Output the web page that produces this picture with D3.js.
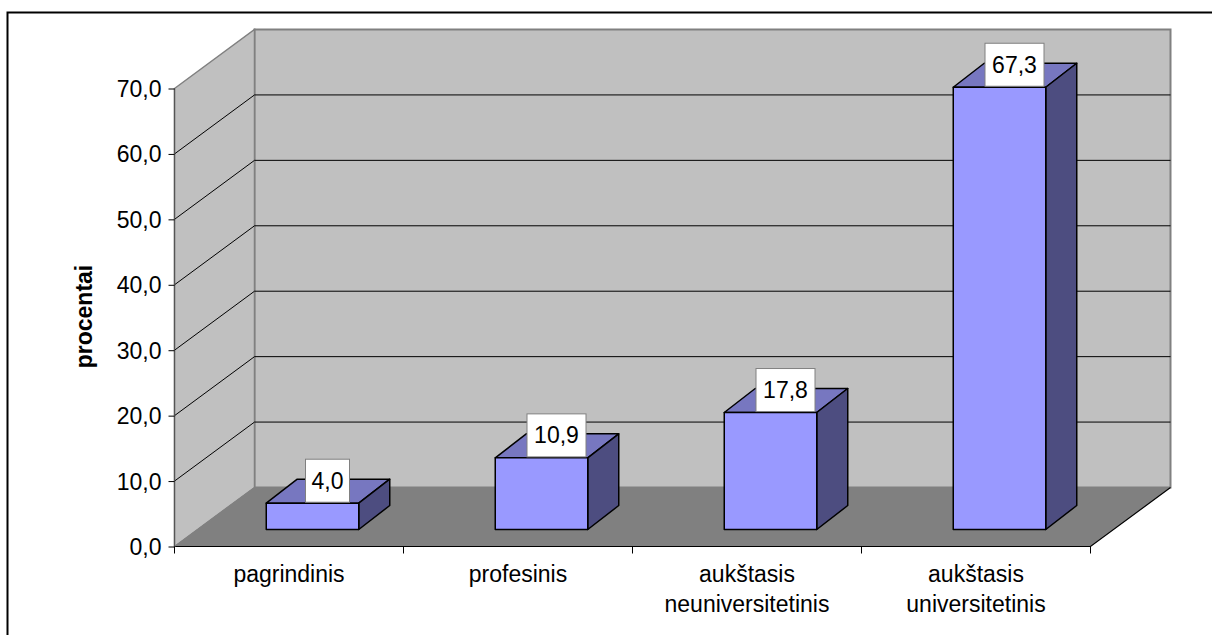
<!DOCTYPE html>
<html><head><meta charset="utf-8">
<script src="https://cdnjs.cloudflare.com/ajax/libs/d3/7.8.5/d3.min.js"></script>
<style>html,body{margin:0;padding:0;background:#fff}svg{display:block}text{font-family:"Liberation Sans",Arial,sans-serif;fill:#000}</style>
</head><body><svg id="c" width="1212" height="635"></svg>
<script>
const categories=[["pagrindinis"],["profesinis"],["aukštasis","neuniversitetinis"],["aukštasis","universitetinis"]];
const values=[4.0,10.9,17.8,67.3];
const labels=["4,0","10,9","17,8","67,3"];
const ticks=[0,10,20,30,40,50,60,70];
const fmt=v=>d3.format(".1f")(v).replace(".",",");

const svg=d3.select("#c");
const y=d3.scaleLinear().domain([0,70]).range([546.5,88.5]);
const yBar=d3.scaleLinear().domain([0,70]).range([529.5,69.5]);
const x=d3.scaleBand().domain(d3.range(4)).range([174.5,1090.5]);
const dx=80,dy=-59;            // plot depth
const bdx=31,bdy=-24;          // bar depth
const barOffX=23.5;            // bar placement in the depth of the floor
const barW=92.5;
const y0=y(0),yT=y(70),xL=174.5,xR=1090.5;
const poly=p=>p.map(q=>q.join(",")).join(" ");

// chart frame: only top and left edges are visible in the picture
svg.append("path").attr("d","M7.5,635V12.5H1212").attr("fill","none").attr("stroke","#000").attr("stroke-width",2);

// walls
svg.append("polygon").attr("points",poly([[xL+dx,yT+dy],[xR+dx,yT+dy],[xR+dx,y0+dy],[xL+dx,y0+dy]])).attr("fill","#c0c0c0").attr("stroke","#808080").attr("stroke-width",2);
svg.append("polygon").attr("points",poly([[xL,yT],[xL+dx,yT+dy],[xL+dx,y0+dy],[xL,y0]])).attr("fill","#c0c0c0").attr("stroke","#808080").attr("stroke-width",1.5);
svg.append("polygon").attr("points",poly([[xL,y0],[xL+dx,y0+dy],[xR+dx,y0+dy],[xR,y0]])).attr("fill","#808080");

// gridlines
ticks.slice(1,-1).forEach(t=>{
  svg.append("path").attr("d",`M${xL},${y(t)}L${xL+dx},${y(t)+dy}L${xR+dx},${y(t)+dy}`).attr("fill","none").attr("stroke","#000").attr("stroke-width",1);
});
// floor front edges
svg.append("path").attr("d",`M${xL},${y0}L${xR},${y0}L${xR+dx},${y0+dy}`).attr("fill","none").attr("stroke","#000").attr("stroke-width",1.2);
svg.append("path").attr("d",`M${xL},${y0}L${xL+dx},${y0+dy}`).attr("fill","none").attr("stroke","#808080").attr("stroke-width",1);
svg.append("line").attr("x1",xL).attr("x2",xL).attr("y1",yT).attr("y2",y0).attr("stroke","#555").attr("stroke-width",1.2);

// axes
const ya=d3.axisLeft(y).tickValues(ticks).tickFormat(fmt).tickSize(6).tickPadding(7);
const yg=svg.append("g").attr("transform",`translate(${xL},0)`).call(ya);
yg.select(".domain").remove();
yg.selectAll("line").attr("stroke","#000");
yg.selectAll("text").attr("font-size",23).attr("font-family",'"Liberation Sans",Arial,sans-serif').attr("dy","0.35em");

const xt=d3.range(5).map(i=>i<4?x(i):xR);
svg.append("g").selectAll("line").data(xt).join("line").attr("x1",d=>d).attr("x2",d=>d).attr("y1",y0).attr("y2",y0+7).attr("stroke","#000");

const cl=svg.append("g");
categories.forEach((lines,i)=>{
  const t=cl.append("text").attr("text-anchor","middle").attr("font-size",23);
  lines.forEach((s,j)=>t.append("tspan").attr("x",x(i)+x.bandwidth()/2).attr("y",582+j*30).text(s));
});

svg.append("text").attr("transform","translate(92,316.5) rotate(-90)").attr("text-anchor","middle").attr("font-size",23).attr("font-weight","bold").text("procentai");

// bars
values.forEach((v,i)=>{
  const cx=x(i)+x.bandwidth()/2+barOffX, l=cx-barW/2, r=l+barW, t=yBar(v), b=yBar(0);
  const add=(pts,f)=>svg.append("polygon").attr("points",poly(pts)).attr("fill",f).attr("stroke","#000").attr("stroke-width",1.5).attr("stroke-linejoin","round");
  add([[l,t],[l+bdx,t+bdy],[r+bdx,t+bdy],[r,t]],"#7777c0");
  add([[r,t],[r+bdx,t+bdy],[r+bdx,b+bdy],[r,b]],"#4d4d80");
  add([[l,t],[r,t],[r,b],[l,b]],"#9999ff");
  const w=labels[i].length>3?59:44, bc=cx+15, bt=t-44;
  svg.append("rect").attr("x",bc-w/2).attr("y",bt).attr("width",w).attr("height",43).attr("fill","#fff").attr("stroke","#808080").attr("stroke-width",1);
  svg.append("text").attr("x",bc).attr("y",bt+21.5).attr("dy","0.35em").attr("text-anchor","middle").attr("font-size",23).text(labels[i]);
});
</script></body></html>
